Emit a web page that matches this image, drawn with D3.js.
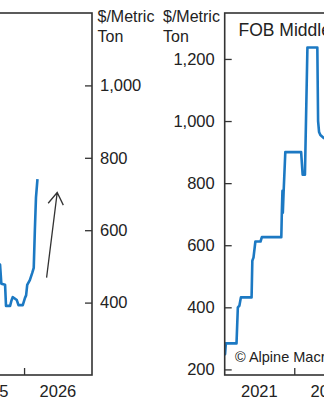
<!DOCTYPE html>
<html><head><meta charset="utf-8">
<script src="https://cdn.jsdelivr.net/npm/d3@7"></script>
<style>
html,body{margin:0;padding:0;background:#fff;overflow:hidden;}
svg{display:block;font-family:"Liberation Sans",Arial,Helvetica,sans-serif;}
</style></head><body>
<svg id="chart" width="324" height="400"></svg>
<script>
// ---- Data ----
const leftDates = ["2025-06-01","2025-08-15","2025-08-25","2025-09-01","2025-09-21","2025-09-26","2025-10-18","2025-10-25","2025-11-01","2025-11-10","2025-11-23","2025-12-02","2025-12-25","2026-01-06","2026-01-12","2026-01-18","2026-02-01","2026-02-14","2026-02-22","2026-02-28","2026-03-06","2026-03-14"];
const leftValues = [510,508,505,452,449,391,391,405,415,412,407,393,393,413,420,449,462,482,496,600,690,741];

const rightDates = ["2021-01-01","2021-01-03","2021-01-07","2021-03-04","2021-03-11","2021-03-19","2021-03-27","2021-05-22","2021-05-26","2021-06-01","2021-06-11","2021-07-08","2021-07-15","2021-10-25","2021-10-28","2021-10-31","2021-11-02","2021-11-06","2021-11-15","2022-02-06","2022-02-14","2022-02-26","2022-03-11","2022-05-02","2022-05-06","2022-05-11","2022-05-18","2022-06-05","2022-07-01"];
const rightValues = [246,250,284,284,400,405,432,432,550,560,612,612,626,626,710,775,705,770,900,900,827,827,1237,1237,1000,965,955,945,940];

const leftYTicks = [400,600,800,1000];
const rightYTicks = [200,400,600,800,1000,1200];
const leftYearLabels = ["2025","2026"];
const rightYearLabels = ["2021","2022"];
const unitLabel = ["$/Metric","Ton"];
const rightTitle = "FOB Middle East";
const sourceNote = "\u00A9 Alpine Macro";
const arrowDates = ["2026-05-02","2026-06-28"];
const arrowValues = [469,704];

// ---- Drawing ----
const parse = d3.utcParse("%Y-%m-%d");
const svg = d3.select("#chart");
const plotTop = 13, plotBottom = 375;
const blue = "#1c79c3", axisCol = "#333", textCol = "#222";
const fmt = d3.format(",");

// Left panel
const lx = d3.scaleUtc().domain([parse("2024-01-01"), parse("2027-01-01")]).range([-112, 92]);
const ly = d3.scaleLinear().domain([200,1200]).range([plotBottom, plotTop]);
// Right panel
const rx = d3.scaleUtc().domain([parse("2021-01-01"), parse("2027-01-01")]).range([224.7, 224.7 + 6*69.6]);
const ry = d3.scaleLinear().domain([182,1348]).range([plotBottom, plotTop]);

const defs = svg.append("defs");
defs.append("clipPath").attr("id","clipL").append("rect")
  .attr("x", lx.range()[0]).attr("y", plotTop).attr("width", lx.range()[1]-lx.range()[0]).attr("height", plotBottom-plotTop);
defs.append("clipPath").attr("id","clipR").append("rect")
  .attr("x", rx.range()[0]).attr("y", plotTop).attr("width", rx.range()[1]-rx.range()[0]).attr("height", plotBottom-plotTop);

function panel(xs, ys, dates, values, clip, yAxis, yTicks, yearLabels) {
  const g = svg.append("g");
  const data = dates.map((d,i)=>({d:parse(d), v:values[i]}));
  g.append("path").datum(data)
    .attr("clip-path", `url(#${clip})`)
    .attr("fill","none").attr("stroke", blue).attr("stroke-width", 2.6)
    .attr("stroke-linejoin","round")
    .attr("d", d3.line().x(p=>xs(p.d)).y(p=>ys(p.v)));
  const isLeft = yAxis===d3.axisLeft;
  const ya = yAxis(ys).tickValues(yTicks).tickFormat(fmt).tickSizeInner(-7).tickSizeOuter(0).tickPadding(isLeft?10:8);
  const yg = g.append("g").attr("transform", `translate(${isLeft?xs.range()[0]:xs.range()[1]},0)`).call(ya);
  yg.attr("font-family",null).attr("font-size",null);
  yg.select(".domain").remove();
  yg.selectAll(".tick line").attr("stroke", axisCol).attr("stroke-width",1.3);
  yg.selectAll(".tick text").attr("fill", textCol).style("font-size","16.5px");
  const years = d3.utcYear.range(xs.domain()[0], xs.domain()[1]);
  const xa = d3.axisBottom(xs).tickValues(years.slice(1)).tickFormat("").tickSizeInner(-7).tickSizeOuter(0);
  const xg = g.append("g").attr("transform", `translate(0,${plotBottom})`).call(xa);
  xg.select(".domain").remove();
  xg.selectAll(".tick line").attr("stroke", axisCol).attr("stroke-width",1.3);
  g.selectAll("text.year").data(yearLabels).join("text").attr("class","year")
    .attr("x", y => xs(new Date(Date.UTC(+y,6,2))))
    .attr("y", 396.5).attr("text-anchor","middle")
    .attr("fill", textCol).style("font-size","16.5px").text(y=>y);
  g.append("rect").attr("x", xs.range()[0]).attr("y", plotTop)
    .attr("width", xs.range()[1]-xs.range()[0]).attr("height", plotBottom-plotTop)
    .attr("fill","none").attr("stroke", axisCol).attr("stroke-width",1.6);
  return g;
}

panel(lx, ly, leftDates, leftValues, "clipL", d3.axisRight, leftYTicks, leftYearLabels);
panel(rx, ry, rightDates, rightValues, "clipR", d3.axisLeft, rightYTicks, rightYearLabels);

[97.5, 163].forEach(x=>{
  svg.append("text").attr("x",x).attr("y",21.5).attr("fill",textCol).style("font-size","16px").text(unitLabel[0]);
  svg.append("text").attr("x",x).attr("y",42).attr("fill",textCol).style("font-size","16px").text(unitLabel[1]);
});

svg.append("text").attr("x",238.5).attr("y",35.5).attr("fill",textCol).style("font-size","17.5px").text(rightTitle);
svg.append("text").attr("x",235).attr("y",361.5).attr("fill",textCol).style("font-size","14.5px").text(sourceNote);

const ax0 = lx(parse(arrowDates[0])), ay0 = ly(arrowValues[0]);
const ax1 = lx(parse(arrowDates[1])), ay1 = ly(arrowValues[1]);
const ang = Math.atan2(ay0-ay1, ax0-ax1);
const hl = 14, ha = 33*Math.PI/180;
const h1 = [ax1 + hl*Math.cos(ang-ha), ay1 + hl*Math.sin(ang-ha)];
const h2 = [ax1 + hl*Math.cos(ang+ha), ay1 + hl*Math.sin(ang+ha)];
svg.append("path")
  .attr("d", `M${ax0},${ay0}L${ax1},${ay1}M${h1[0]},${h1[1]}L${ax1},${ay1}L${h2[0]},${h2[1]}`)
  .attr("fill","none").attr("stroke","#333").attr("stroke-width",1.3);
</script>
</body></html>
